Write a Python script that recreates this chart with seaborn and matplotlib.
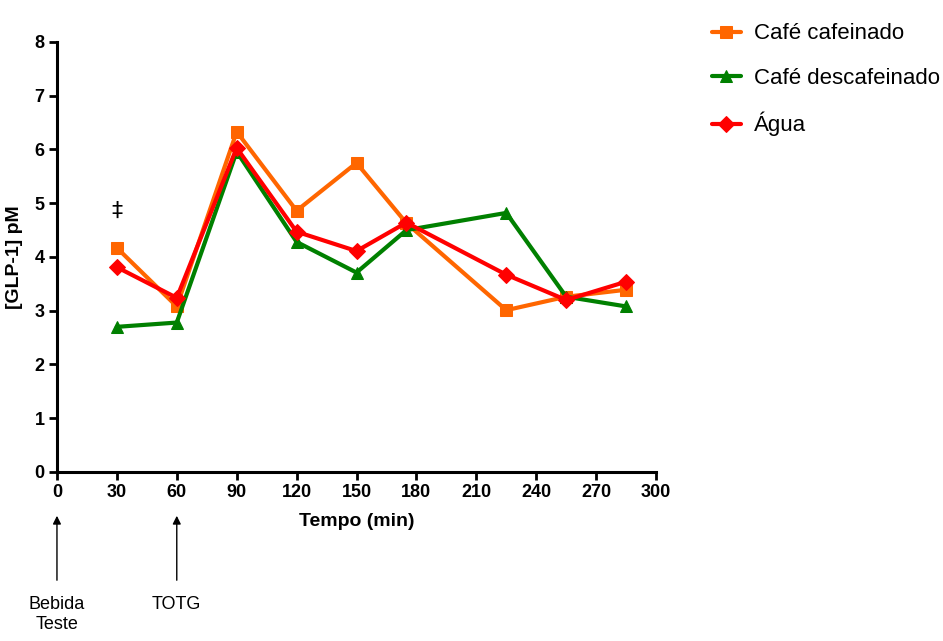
import pandas as pd
import matplotlib
matplotlib.use("Agg")
import matplotlib.pyplot as plt
import seaborn as sns

sns.set_style("white")
plt.rcParams['font.family'] = ['Liberation Sans', 'DejaVu Sans']
plt.rcParams['text.color'] = 'black'
plt.rcParams['axes.labelcolor'] = 'black'
plt.rcParams['xtick.color'] = 'black'
plt.rcParams['ytick.color'] = 'black'

# Tempo (min) e concentrações de GLP-1 (pM)
tempo = [30, 60, 90, 120, 150, 175, 225, 255, 285]
cafe_cafeinado = [4.17, 3.08, 6.33, 4.86, 5.75, 4.63, 3.01, 3.26, 3.39]
cafe_descafeinado = [2.70, 2.78, 5.96, 4.28, 3.71, 4.50, 4.82, 3.26, 3.08]
agua = [3.81, 3.24, 6.03, 4.47, 4.11, 4.64, 3.67, 3.20, 3.54]

series = [
    ("Café cafeinado", cafe_cafeinado, "#FF6600", "s"),
    ("Café descafeinado", cafe_descafeinado, "#008000", "^"),
    ("Água", agua, "#FF0000", "D"),
]

fig = plt.figure(figsize=(9.43, 6.41), dpi=100)
ax = fig.add_axes([0.0604, 0.2637, 0.6353, 0.6708])

for name, vals, color, marker in series:
    df = pd.DataFrame({"tempo": tempo, "glp1": vals})
    sns.lineplot(data=df, x="tempo", y="glp1", ax=ax, color=color, marker=marker,
                 markersize=9 if marker != "D" else 8, markeredgecolor=color,
                 linewidth=3, label=name)

ax.set_xlim(0, 300)
ax.set_ylim(0, 8)
ax.set_xticks(range(0, 301, 30))
ax.set_yticks(range(0, 9))
for s in ["top", "right"]:
    ax.spines[s].set_visible(False)
for s in ["left", "bottom"]:
    ax.spines[s].set_linewidth(2.2)
    ax.spines[s].set_color("black")
ax.tick_params(axis="both", direction="out", length=6, width=2, color="black",
               labelsize=13, pad=3, left=True, bottom=True)
for lbl in ax.get_xticklabels() + ax.get_yticklabels():
    lbl.set_fontweight("bold")
ax.set_xlabel("Tempo (min)", fontsize=14, fontweight="bold", labelpad=8)
ax.set_ylabel("[GLP-1] pM", fontsize=14, fontweight="bold", labelpad=8)

ax.text(30, 4.85, "‡", ha="center", va="center", fontsize=16,
        family=["DejaVu Sans"])

leg = ax.legend(loc="upper left", bbox_to_anchor=(1.06, 1.09), frameon=False,
                prop={"family": "Liberation Sans", "size": 16},
                handlelength=1.3, handletextpad=0.6, labelspacing=1.05)

# setas: Bebida Teste (0 min) e TOTG (60 min)
for xv, txt in [(0, "Bebida\nTeste"), (60, "TOTG")]:
    ax.annotate("", xy=(xv, 128 / 641), xycoords=("data", "figure fraction"),
                xytext=(xv, 58 / 641), textcoords=("data", "figure fraction"),
                arrowprops=dict(arrowstyle="-|>", color="black", lw=1,
                                mutation_scale=12))
    ax.annotate(txt, xy=(xv, 45 / 641), xycoords=("data", "figure fraction"),
                ha="center", va="top", fontsize=13, linespacing=1.2)

fig.savefig("out.png", dpi=100)
